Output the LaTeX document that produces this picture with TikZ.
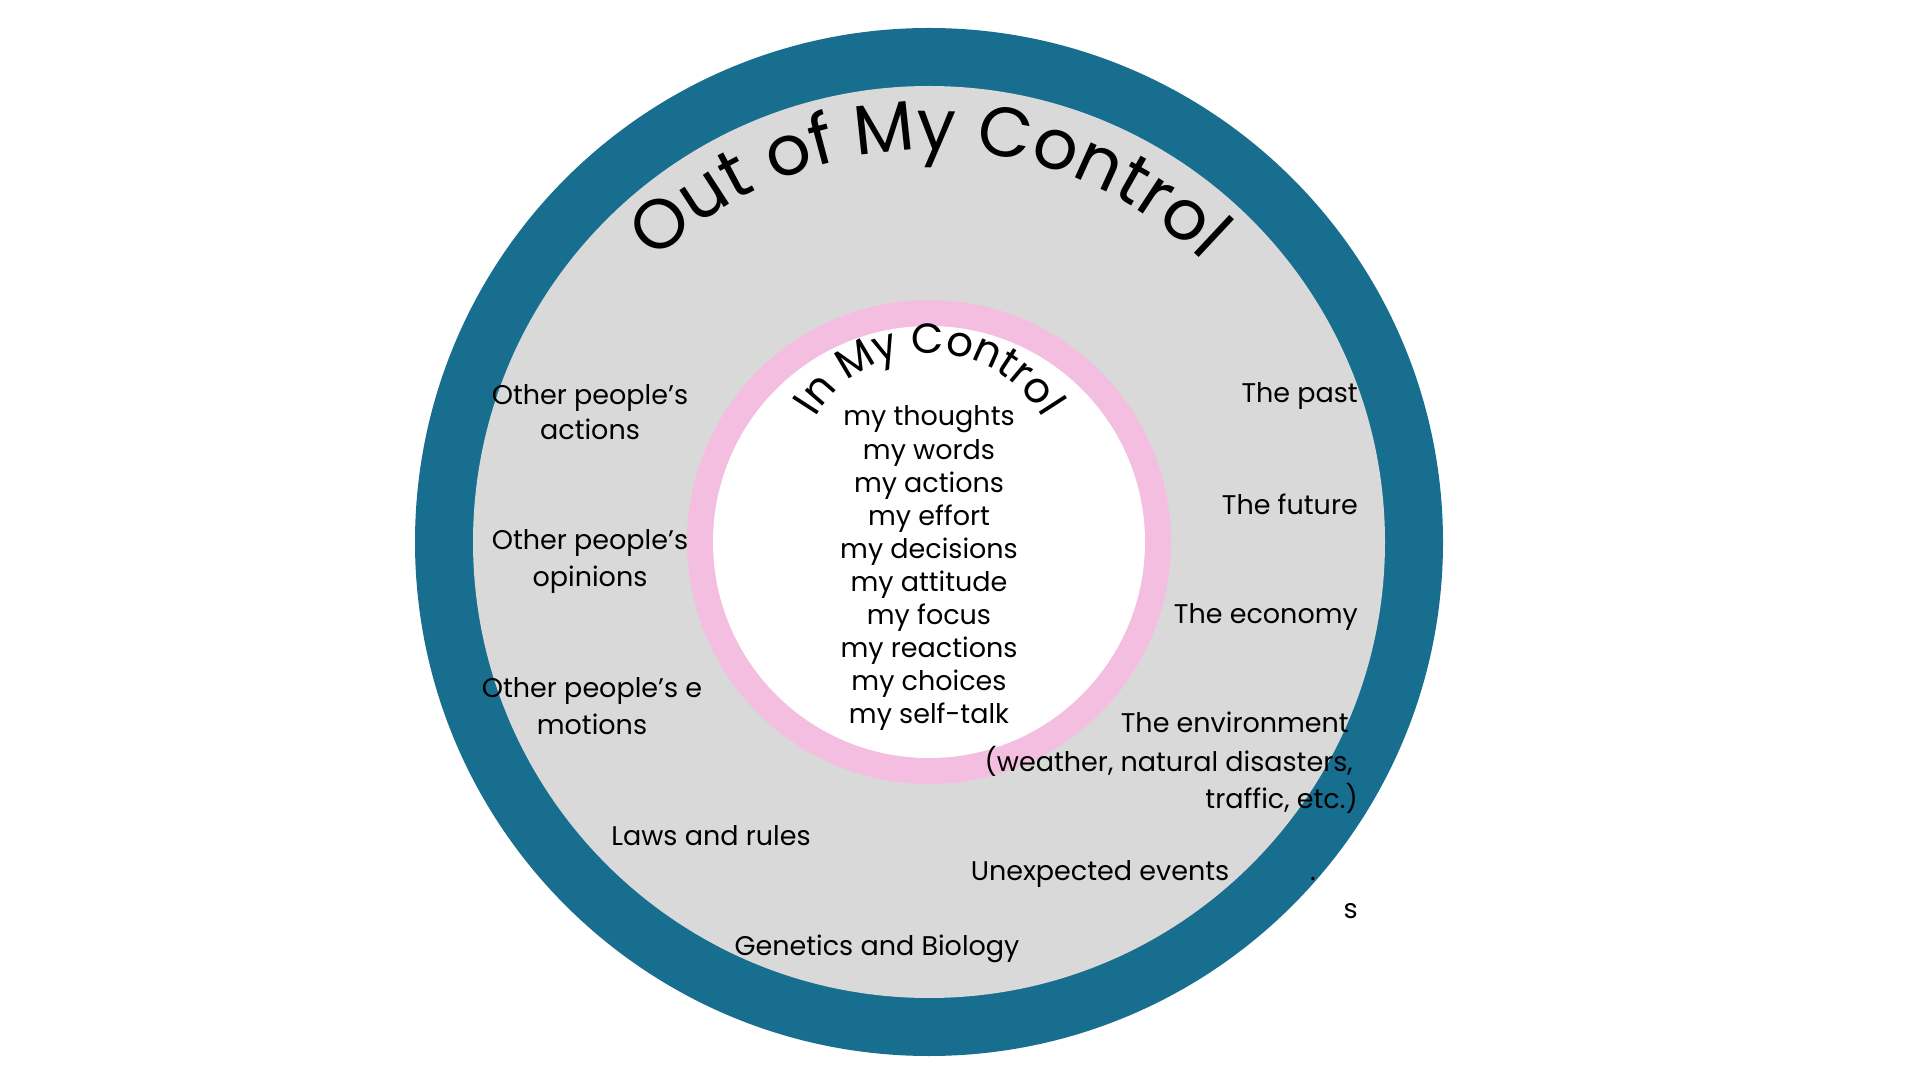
\documentclass[tikz,border=0pt]{standalone}
\usepackage{fontspec}
\setmainfont{Poppins}
\usetikzlibrary{decorations.text}
\definecolor{ringblue}{RGB}{23,110,143}
\definecolor{fieldgray}{RGB}{217,217,217}
\definecolor{ringpink}{RGB}{244,190,224}
\newcommand\titlefnt{\fontsize{70}{80}\selectfont}
\newcommand\subtitlefnt{\fontsize{42}{50}\selectfont}
\begin{document}
\begin{tikzpicture}[x=1pt,y=1pt,
  lbl/.style={font=\fontsize{27}{33}\selectfont, inner sep=0pt, text=black, anchor=base},
  lblr/.style={lbl, anchor=base east},
  item/.style={font=\fontsize{27}{33}\selectfont, inner sep=0pt, text=black, anchor=base}]
\useasboundingbox (0,0) rectangle (1920,1080);
\fill[white] (0,0) rectangle (1920,1080);
\coordinate (C) at (929,538);
\fill[ringblue] (C) circle[radius=514];
\fill[fieldgray] (C) circle[radius=456];
\fill[ringpink] (C) circle[radius=242];
\fill[white] (C) circle[radius=216];
% curved titles
\coordinate (T0) at (537,538);
\path[decorate, decoration={text along path, text align=center,
   text={|\titlefnt|Out of My Control}}] (T0) arc[start angle=180, end angle=0, radius=392];
\coordinate (S0) at (797,595);
\path[decorate, decoration={text along path, text align=center,
   text={|\subtitlefnt|In My Control}}] (S0) arc[start angle=180, end angle=0, radius=132];
% inner list
\foreach \t [count=\i] in {my thoughts, my words, my actions, my effort, my decisions,
   my attitude, my focus, my reactions, my choices, my self-talk}
  \node[item] (m\i) at (929, {654-33.1*(\i-1)}) {\t};
% left column
\node[lbl] (oa1) at (590,675) {Other people’s};
\node[lbl] (oa2) at (590,640) {actions};
\node[lbl] (oo1) at (590,530) {Other people’s};
\node[lbl] (oo2) at (590,493) {opinions};
\node[lbl] (oe1) at (592,382) {Other people’s e};
\node[lbl] (oe2) at (592,345) {motions};
% right column
\node[lblr] (past) at (1358,677) {The past};
\node[lblr] (future) at (1358,565) {The future};
\node[lblr] (economy) at (1358,456) {The economy};
\node[lblr] (env1) at (1349,347) {The environment};
\node[lblr] (env2) at (1353,308) {(weather, natural disasters,};
\node[lblr] (env3) at (1358,272) {traffic, etc.)};
% bottom
\node[lbl] (laws) at (711,235) {Laws and rules};
\node[lbl] (unexp) at (1100,200) {Unexpected events};
\node[lbl, anchor=base west] (dot) at (1310,200) {.};
\node[lblr] (ess) at (1358,162) {s};
\node[lbl] (genetics) at (877,125) {Genetics and Biology};
\end{tikzpicture}
\end{document}
